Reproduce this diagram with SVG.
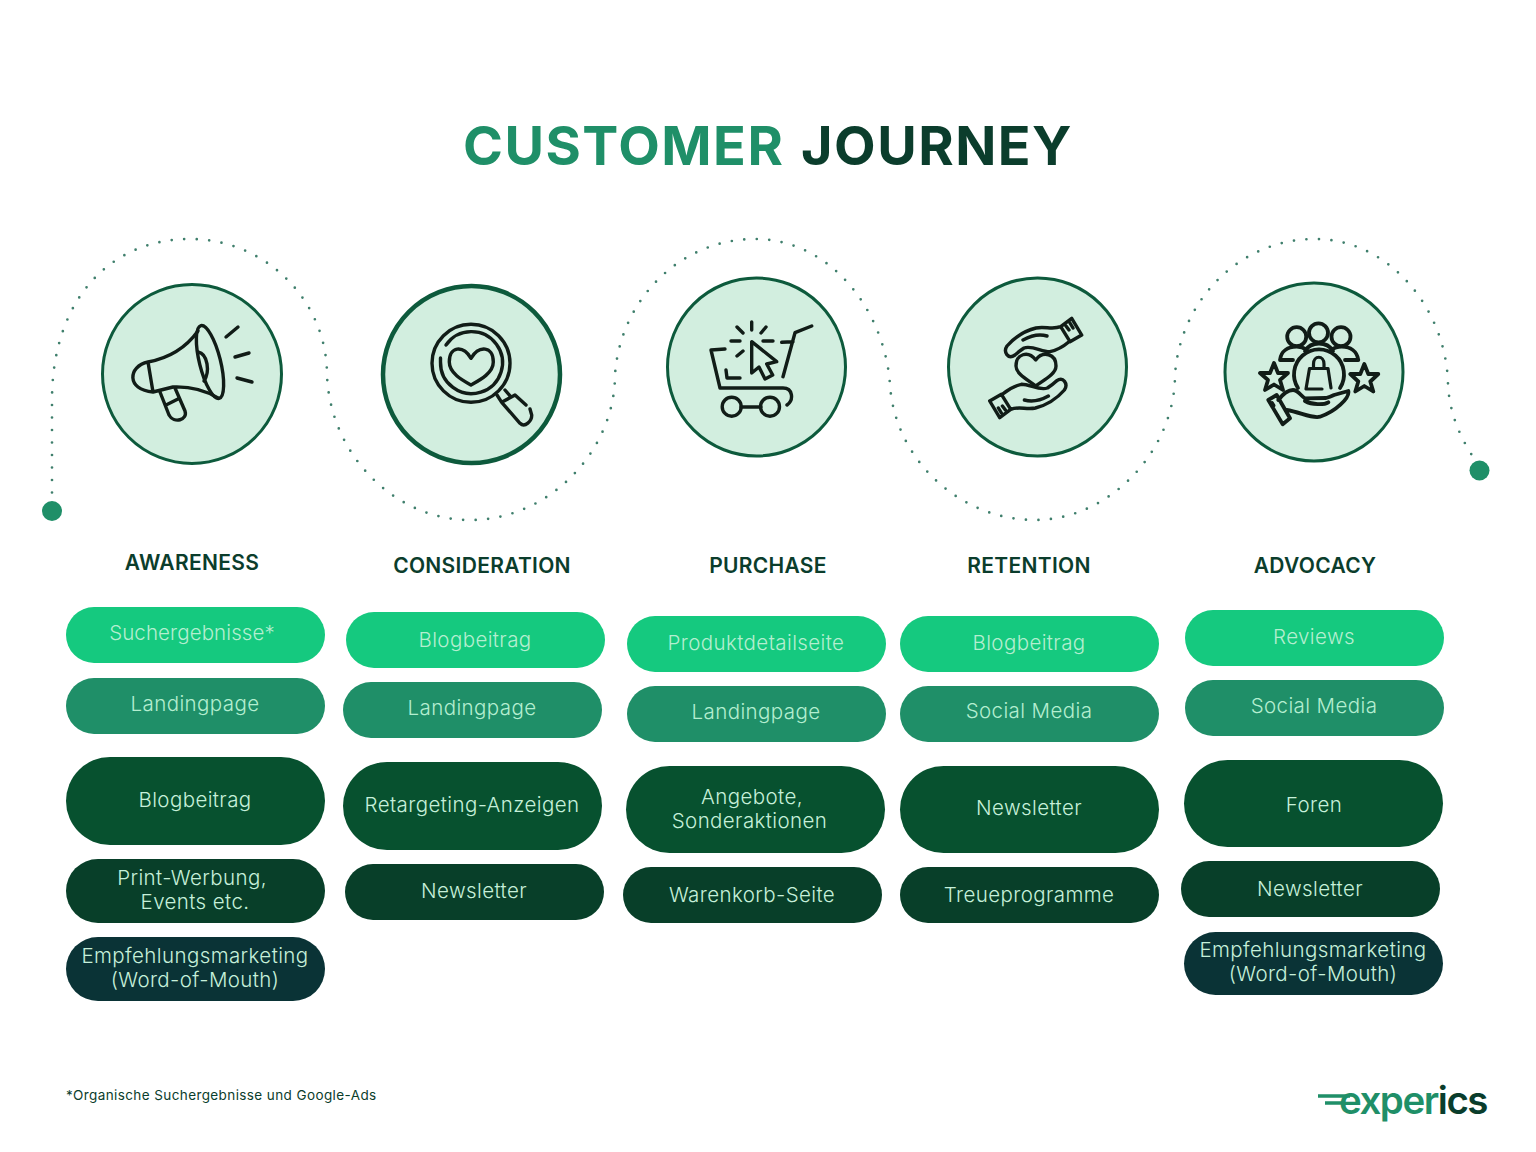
<svg xmlns="http://www.w3.org/2000/svg" width="1536" height="1152" viewBox="0 0 1536 1152">
<style>
text{font-family:"Inter","Liberation Sans",sans-serif}
.t{font-size:54px;font-weight:700;letter-spacing:1.500px}
.h{font-size:21px;font-weight:600;fill:#0b3d2c;text-anchor:middle;letter-spacing:.3px}
.p{font-size:20.500px;font-weight:300;text-anchor:middle;fill:#c6f0da;letter-spacing:.4px}
.a{fill:#15c97f}.b{fill:#1f8f68}.c{fill:#07512f}.d{fill:#083f29}.f{fill:#0a3336}
.a+text,.b+text{fill:#b4eed0}
.disc{fill:#d2eedf;stroke:#0d5a3c;stroke-width:3}
.i{fill:none;stroke:#111c17;stroke-width:3.400;stroke-linecap:round;stroke-linejoin:round}
</style>
<rect width="1536" height="1152" fill="#fff"/>
<g id="title"><text class="t" x="463" y="164.500" fill="#1f8f68">CUSTOMER</text><text class="t" x="801" y="164.500" fill="#0b3d2c">JOURNEY</text></g>
<g id="connectors">
<path d="M52 505V400C52 300 110 239 190 239C265 239 327 300 327 375C330 455 395 520 470 520C550 520 615 450 615 375C620 300 680 239 755 239C830 239 885 310 890 385C895 460 960 520 1035 520C1110 520 1175 450 1175 375C1180 300 1240 239 1315 239C1390 239 1447 310 1448 385C1450 420 1465 445 1477 463" fill="none" stroke="#3f7f6c" stroke-width="2.700" stroke-linecap="round" stroke-dasharray="0 12.500"/>
<circle cx="52" cy="511" r="10" fill="#1f8f68"/><circle cx="1479.500" cy="470.500" r="10" fill="#1f8f68"/>
</g>
<g id="awareness-icon"><circle class="disc" cx="192" cy="374" r="89.500"/>
<g class="i"><ellipse cx="210" cy="362" rx="10.500" ry="37.500" transform="rotate(-14 210 362)"/><path d="M198 331Q180 356 148 362M153 392L173 387Q198 386 218 398M148 362L153 392M148 362C128 366 126 390 153 392M198 352C208 354 210 372 204 381M160 392L169 415C174 424 188 420 185 411L175 388M166 405L178 399M226 337L238 327M235 357L249 353M237 378L252 382"/></g></g>
<g id="consideration-icon"><circle class="disc" style="stroke-width:4.500" cx="471.500" cy="374.500" r="88.500"/>
<g class="i"><circle cx="471" cy="363.300" r="39"/><path d="M440.500 362A31 31 0 1 0 446 345M440.500 362V358"/><path d="M471 358.300C463 345 449.300 346 449.300 362C449.300 373 462 380 471 385C480 380 493.300 373 493.300 362C493.300 346 479 345 471 358.300Z"/><path d="M497 395L501.700 402.300M505 390L510.700 396.700M501.700 402.300L520 423.300C525 428 532 421 531.700 415L530 409M501.700 402.300L515 395L526 405"/></g></g>
<g id="purchase-icon"><circle class="disc" cx="756.500" cy="367" r="89"/>
<g class="i"><path d="M811.700 326L795 332.700L783 376.700M781.700 342.300L793 341.700M725 349L711 350L720 388H783C793 388 794 400 787 405M726 370L727 378H740M741 407H761"/><circle cx="731.700" cy="406.700" r="9.500"/><circle cx="770" cy="406.700" r="9.500"/><path d="M751.700 322V330M737 327L743 333M766 327L761 333M731 341H740M763 341H773M737 356L743 351M751.700 341.700V373L759 367L765 379L772.700 375L766.700 364L776.700 361.700Z"/></g></g>
<g id="retention-icon"><circle class="disc" cx="1037.500" cy="367" r="89"/>
<g class="i"><path d="M1060.700 326.700L1071.700 318.300L1081.700 335L1070 341.700ZM1060.700 326.700C1052 330 1045 326 1036 328C1024 331 1014 338 1007 346C1003 352 1008 360 1015 355C1018 352 1021 350 1024 348C1032 345 1042 352 1050 351.700C1057 350 1064 346 1069 341.700M1023 340C1032 335 1040 334 1047 336M1066 326L1069 330M1070 323L1073 328"/><path transform="rotate(180 1035.700 368)" d="M1060.700 326.700L1071.700 318.300L1081.700 335L1070 341.700ZM1060.700 326.700C1052 330 1045 326 1036 328C1024 331 1014 338 1007 346C1003 352 1008 360 1015 355C1018 352 1021 350 1024 348C1032 345 1042 352 1050 351.700C1057 350 1064 346 1069 341.700M1023 340C1032 335 1040 334 1047 336M1066 326L1069 330M1070 323L1073 328"/><path d="M1035.700 360C1028 350 1016 354 1016 366C1016 374 1028 380 1035.700 386C1044 380 1056 374 1056 366C1056 354 1043 350 1035.700 360Z"/></g></g>
<g id="advocacy-icon"><circle class="disc" cx="1314" cy="372" r="89"/>
<g class="i" style="stroke-width:3.800"><circle cx="1318.500" cy="332.800" r="9.500"/><circle cx="1296.700" cy="336.700" r="9.500"/><circle cx="1341" cy="336.700" r="9.500"/><path d="M1280 360C1281 351 1288 346.700 1296.700 346.700C1300 346.700 1304 348 1306.700 350M1358.300 360C1357 351 1350 346.700 1341.700 346.700C1338 346.700 1334 348 1331.500 350M1280 360H1293M1345 360H1358.300M1305 351C1311 341 1327 341 1333 351M1298 388A25 25 0 1 1 1340 388"/><path style="stroke-width:3.200" d="M1306 389L1309.500 368.500H1328L1331 388M1306 389L1322 389M1313.500 368.500V364C1313.500 355 1324 355 1324 364V368.500"/><path d="M1274 363L1278 373L1288 373L1280 380L1283 390L1274 384.500L1265 390L1268 380L1260 373L1270 373ZM1364.300 364L1368.300 374L1378.300 374L1370.300 381.500L1373.300 391.500L1364.300 386L1355.300 391.500L1358.300 381.500L1350.300 374L1360.300 374Z"/><path d="M1268.300 400L1276.700 395L1290 418.300L1282.700 424.300ZM1278.300 400C1283 394 1288 390 1293 390C1298 390 1301 396 1305 398.300L1326 398C1330 397 1332 396 1334 395L1348.300 391C1350 398 1335 412 1320 416.700C1312 419 1300 412 1286.700 410M1305 401C1312 405 1324 405 1328.300 402.300M1272 403L1273.500 405.500"/></g></g>
<g id="awareness"><text class="h" x="192" y="569.500">AWARENESS</text>
<rect class="a" x="66" y="607" width="259" height="56" rx="28"/><text class="p" x="192" y="640" style="letter-spacing:.1px">Suchergebnisse*</text>
<rect class="b" x="66" y="678" width="259" height="56" rx="28"/><text class="p" x="195" y="710.500">Landingpage</text>
<rect class="c" x="66" y="757" width="259" height="88" rx="44"/><text class="p" x="195" y="806.500">Blogbeitrag</text>
<rect class="d" x="66" y="859" width="259" height="64" rx="32"/><text class="p" x="192" y="885">Print-Werbung,</text><text class="p" x="195" y="909">Events etc.</text>
<rect class="f" x="66" y="937" width="259" height="64" rx="32"/><text class="p" x="195" y="963">Empfehlungsmarketing</text><text class="p" x="195" y="987">(Word-of-Mouth)</text></g>
<g id="consideration"><text class="h" x="482" y="573">CONSIDERATION</text>
<rect class="a" x="346" y="612" width="259" height="56" rx="28"/><text class="p" x="475" y="646.500">Blogbeitrag</text>
<rect class="b" x="343" y="682" width="259" height="56" rx="28"/><text class="p" x="472" y="714.500">Landingpage</text>
<rect class="c" x="343" y="762" width="259" height="88" rx="44"/><text class="p" x="472" y="811.500">Retargeting-Anzeigen</text>
<rect class="d" x="345" y="864" width="259" height="56" rx="28"/><text class="p" x="474" y="898">Newsletter</text></g>
<g id="purchase"><text class="h" x="768" y="573">PURCHASE</text>
<rect class="a" x="627" y="616" width="259" height="56" rx="28"/><text class="p" x="756" y="650">Produktdetailseite</text>
<rect class="b" x="627" y="686" width="259" height="56" rx="28"/><text class="p" x="756" y="719">Landingpage</text>
<rect class="c" x="626" y="766" width="259" height="87" rx="43.500"/><text class="p" x="752" y="803.500">Angebote,</text><text class="p" x="749.500" y="827.500">Sonderaktionen</text>
<rect class="d" x="623" y="867" width="259" height="56" rx="28"/><text class="p" x="752" y="901.500">Warenkorb-Seite</text></g>
<g id="retention"><text class="h" x="1029" y="573">RETENTION</text>
<rect class="a" x="900" y="616" width="259" height="56" rx="28"/><text class="p" x="1029" y="650">Blogbeitrag</text>
<rect class="b" x="900" y="686" width="259" height="56" rx="28"/><text class="p" x="1029" y="718">Social Media</text>
<rect class="c" x="900" y="766" width="259" height="87" rx="43.500"/><text class="p" x="1029" y="815">Newsletter</text>
<rect class="d" x="900" y="867" width="259" height="56" rx="28"/><text class="p" x="1029" y="901.500">Treueprogramme</text></g>
<g id="advocacy"><text class="h" x="1315" y="573">ADVOCACY</text>
<rect class="a" x="1185" y="610" width="259" height="56" rx="28"/><text class="p" x="1314" y="643.500">Reviews</text>
<rect class="b" x="1185" y="680" width="259" height="56" rx="28"/><text class="p" x="1314" y="712.500">Social Media</text>
<rect class="c" x="1184" y="760" width="259" height="87" rx="43.500"/><text class="p" x="1314" y="811.500">Foren</text>
<rect class="d" x="1181" y="861" width="259" height="56" rx="28"/><text class="p" x="1310" y="895.500">Newsletter</text>
<rect class="f" x="1184" y="932" width="259" height="63" rx="31.500"/><text class="p" x="1313" y="957">Empfehlungsmarketing</text><text class="p" x="1313" y="981">(Word-of-Mouth)</text></g>
<text id="footnote" x="66" y="1100" font-size="13.500" letter-spacing=".4" fill="#0b3d2c">*Organische Suchergebnisse und Google-Ads</text>
<g id="logo"><path d="M1318 1096H1350M1325 1103H1344" stroke="#1f8f68" stroke-width="3.500" fill="none"/><text x="1339" y="1114" font-size="38.500" font-weight="600" letter-spacing="-1.500" fill="#1f8f68">exper<tspan fill="#0a3d2c">ics</tspan></text></g>
</svg>
